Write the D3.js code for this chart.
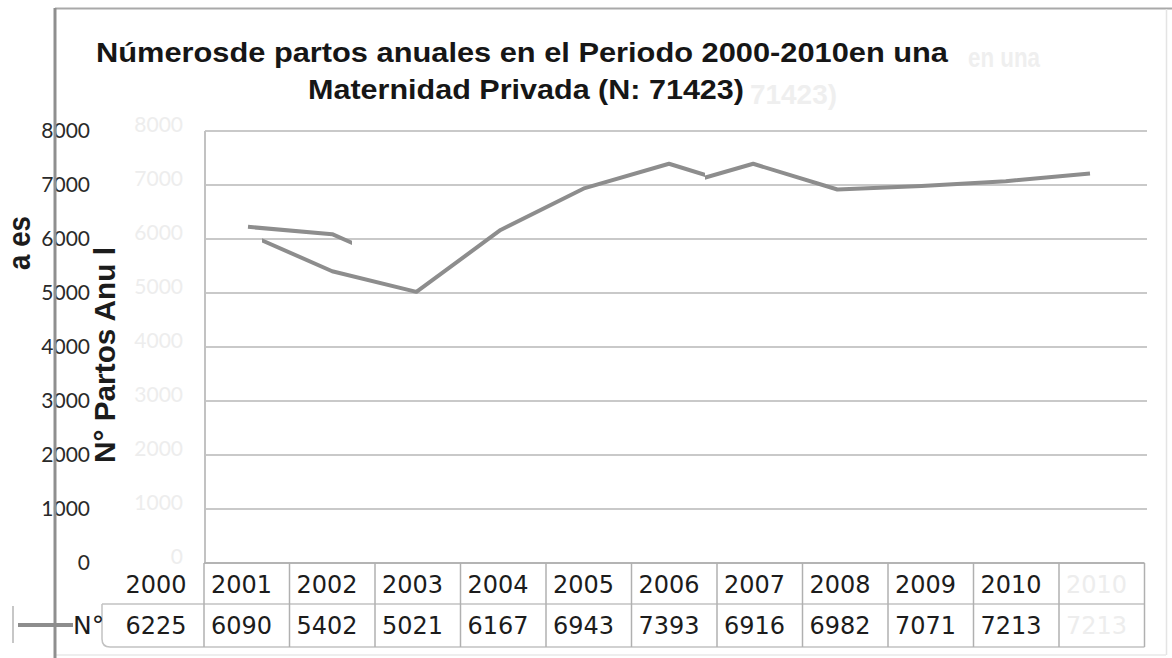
<!DOCTYPE html>
<html>
<head>
<meta charset="utf-8">
<script src="https://cdn.jsdelivr.net/npm/d3@7"></script>
<style>
  html, body { margin: 0; padding: 0; background: #fff; }
  svg { display: block; }
</style>
</head>
<body>
<svg id="chart" width="1172" height="658"></svg>
<script>
// Annual deliveries 2000-2010
const years = ["2000", "2001", "2002", "2003", "2004", "2005", "2006", "2007", "2008", "2009", "2010"];
const partos = [6225, 6090, 5402, 5021, 6167, 6943, 7393, 6916, 6982, 7071, 7213];
const yTicks = [0, 1000, 2000, 3000, 4000, 5000, 6000, 7000, 8000];
const titleLines = ["Númerosde partos anuales en el Periodo 2000-2010en una", "Maternidad Privada (N: 71423)"];
const titleEchoes = ["en una", "71423)"];
const seriesLabel = "N°";

const svg = d3.select("#chart");
const W = 1172, H = 658;

const plot = { left: 205, right: 1147, top: 131, bottom: 563 };
const y = d3.scaleLinear().domain([0, 8000]).range([plot.bottom, plot.top]);
const x = d3.scalePoint().domain(years).range([248, 1090]);
const step = x.step();
// offset copy of the series, one category to the left
const xShift = d3.scalePoint().domain(years).range([248 - step, 1090 - step]);
// data table columns
const xt = d3.scaleBand().domain(years).range([118.5, 1059]).paddingInner(0).paddingOuter(0);

const tableTop = 563, rowMid = 604, tableBottom = 647;
const titleFont = "'Liberation Sans', Arial, sans-serif";

// ---- frame ----
svg.append("rect").attr("width", W).attr("height", H).attr("fill", "#ffffff");
svg.append("line").attr("x1", 55).attr("x2", W).attr("y1", 8.5).attr("y2", 8.5)
  .attr("stroke", "#a9a9a9").attr("stroke-width", 2);
svg.append("line").attr("x1", 1166.5).attr("x2", 1166.5).attr("y1", 9).attr("y2", 655)
  .attr("stroke", "#e4e4e4").attr("stroke-width", 1.5);
svg.append("line").attr("x1", 55).attr("x2", 1166).attr("y1", 655).attr("y2", 655)
  .attr("stroke", "#e8e8e8").attr("stroke-width", 1.5);

// ---- faint echoes of the title tail ----
const ghostTitle = svg.append("g").attr("fill", "#efefef")
  .attr("font-family", titleFont).attr("font-weight", 700).attr("font-size", 28);
ghostTitle.append("text").attr("x", 1040).attr("y", 67).attr("text-anchor", "end")
  .attr("textLength", 72).attr("lengthAdjust", "spacingAndGlyphs").text(titleEchoes[0]);
ghostTitle.append("text").attr("x", 750).attr("y", 104).attr("text-anchor", "start")
  .attr("textLength", 87).attr("lengthAdjust", "spacingAndGlyphs").text(titleEchoes[1]);

// ---- faint duplicated y labels ----
svg.append("g").selectAll("text").data(yTicks).join("text")
  .attr("x", 183).attr("y", d => y(d) - 6).attr("dy", "0.35em")
  .attr("text-anchor", "end").attr("fill", "#ededed")
  .attr("font-family", "Lato, sans-serif").attr("font-size", 21)
  .text(d => d);

// ---- gridlines ----
svg.append("g").selectAll("line").data(yTicks.filter(d => d > 0)).join("line")
  .attr("x1", plot.left).attr("x2", plot.right)
  .attr("y1", d => y(d)).attr("y2", d => y(d))
  .attr("stroke", "#c9c9c9").attr("stroke-width", 2);
svg.append("line").attr("x1", plot.left).attr("x2", plot.left)
  .attr("y1", plot.top).attr("y2", plot.bottom)
  .attr("stroke", "#c2c2c2").attr("stroke-width", 2);

// ---- title ----
const title = svg.append("g").attr("fill", "#161616")
  .attr("font-family", titleFont).attr("font-weight", 700)
  .attr("font-size", 28).attr("text-anchor", "middle");
title.append("text").attr("x", 522).attr("y", 62).text(titleLines[0])
  .attr("textLength", 852).attr("lengthAdjust", "spacingAndGlyphs");
title.append("text").attr("x", 526).attr("y", 99).text(titleLines[1])
  .attr("textLength", 436).attr("lengthAdjust", "spacingAndGlyphs");

// ---- y axis labels ----
svg.append("g").selectAll("text").data(yTicks).join("text")
  .attr("x", 90).attr("y", d => y(d)).attr("dy", "0.35em")
  .attr("text-anchor", "end").attr("fill", "#2a2a2a")
  .attr("font-family", "Lato, sans-serif").attr("font-size", 21)
  .text(d => d);

// left frame edge
svg.append("line").attr("x1", 55).attr("x2", 55).attr("y1", 8).attr("y2", H)
  .attr("stroke", "#8f8f8f").attr("stroke-width", 3);

// ---- y axis title (split) ----
const yTitle = svg.append("g").attr("fill", "#1c1c1c")
  .attr("font-family", titleFont).attr("font-weight", 700);
yTitle.append("text").attr("transform", "translate(105,355) rotate(-90)")
  .attr("font-size", 29)
  .attr("text-anchor", "middle").attr("dominant-baseline", "central")
  .attr("textLength", 216).attr("lengthAdjust", "spacingAndGlyphs").text("N° Partos Anu l");
yTitle.append("text").attr("transform", "translate(19,243) rotate(-90)")
  .attr("font-size", 32)
  .attr("text-anchor", "middle").attr("dominant-baseline", "central")
  .attr("textLength", 54).attr("lengthAdjust", "spacingAndGlyphs").text("a es");

// ---- series line ----
const defs = svg.append("defs");
defs.append("clipPath").attr("id", "clipMain")
  .selectAll("rect").data([[200, 352], [705, 1150]]).join("rect")
  .attr("x", d => d[0]).attr("width", d => d[1] - d[0]).attr("y", 0).attr("height", H);
defs.append("clipPath").attr("id", "clipShift")
  .append("rect").attr("x", 262).attr("width", 705 - 262).attr("y", 0).attr("height", H);

const line = d3.line().x((d, i) => x(years[i])).y(d => y(d));
const lineShift = d3.line().x((d, i) => xShift(years[i])).y(d => y(d));

svg.append("path").datum(partos).attr("d", lineShift)
  .attr("clip-path", "url(#clipShift)")
  .attr("fill", "none").attr("stroke", "#8d8d8d").attr("stroke-width", 4)
  .attr("stroke-linejoin", "round");
svg.append("path").datum(partos).attr("d", line)
  .attr("clip-path", "url(#clipMain)")
  .attr("fill", "none").attr("stroke", "#8d8d8d").attr("stroke-width", 4)
  .attr("stroke-linejoin", "round");

// ---- data table ----
const tbl = svg.append("g");
const colEdges = years.slice(1).map(d => xt(d)).concat([xt(years[years.length - 1]) + xt.step(), xt(years[years.length - 1]) + 2 * xt.step()]);
tbl.append("line").attr("x1", xt(years[1])).attr("x2", colEdges[colEdges.length - 1])
  .attr("y1", tableTop).attr("y2", tableTop).attr("stroke", "#b4b4b4").attr("stroke-width", 2);
tbl.append("line").attr("x1", 102).attr("x2", colEdges[colEdges.length - 1])
  .attr("y1", rowMid).attr("y2", rowMid).attr("stroke", "#c2c2c2").attr("stroke-width", 1.5);
tbl.append("path")
  .attr("d", `M102,${rowMid} L102,${tableBottom - 8} Q102,${tableBottom} 110,${tableBottom} L${colEdges[colEdges.length - 1]},${tableBottom}`)
  .attr("fill", "none").attr("stroke", "#c2c2c2").attr("stroke-width", 1.5);
tbl.selectAll("line.col").data(colEdges).join("line").attr("class", "col")
  .attr("x1", d => d).attr("x2", d => d).attr("y1", tableTop).attr("y2", tableBottom)
  .attr("stroke", "#b0b0b0").attr("stroke-width", 1.5);

const cellFont = "'DejaVu Sans', Verdana, sans-serif";
tbl.selectAll("text.year").data(years).join("text").attr("class", "year")
  .attr("x", d => xt(d) + 7).attr("y", 584).attr("dy", "0.35em")
  .attr("font-family", cellFont).attr("font-size", 25).attr("fill", "#1c1c1c")
  .attr("textLength", 61).attr("lengthAdjust", "spacingAndGlyphs").text(d => d);
tbl.selectAll("text.val").data(partos).join("text").attr("class", "val")
  .attr("x", (d, i) => xt(years[i]) + 7).attr("y", 625).attr("dy", "0.35em")
  .attr("font-family", cellFont).attr("font-size", 25).attr("fill", "#1c1c1c")
  .attr("textLength", 61).attr("lengthAdjust", "spacingAndGlyphs").text(d => d);
// faded repeat of the last column
const lastX = xt(years[years.length - 1]) + xt.step() + 7;
tbl.append("text").attr("x", lastX).attr("y", 584).attr("dy", "0.35em")
  .attr("font-family", cellFont).attr("font-size", 25).attr("fill", "#ededed")
  .attr("textLength", 61).attr("lengthAdjust", "spacingAndGlyphs").text(years[years.length - 1]);
tbl.append("text").attr("x", lastX).attr("y", 625).attr("dy", "0.35em")
  .attr("font-family", cellFont).attr("font-size", 25).attr("fill", "#ededed")
  .attr("textLength", 61).attr("lengthAdjust", "spacingAndGlyphs").text(partos[partos.length - 1]);

// legend key in the table
tbl.append("line").attr("x1", 18).attr("x2", 73).attr("y1", 625).attr("y2", 625)
  .attr("stroke", "#8d8d8d").attr("stroke-width", 4);
tbl.append("line").attr("x1", 13).attr("x2", 13).attr("y1", 606).attr("y2", 643)
  .attr("stroke", "#b5b5b5").attr("stroke-width", 1.5);
tbl.append("text").attr("x", 73).attr("y", 625).attr("dy", "0.35em")
  .attr("font-family", cellFont).attr("font-size", 25).attr("fill", "#1c1c1c")
  .text(seriesLabel);
</script>
</body>
</html>
